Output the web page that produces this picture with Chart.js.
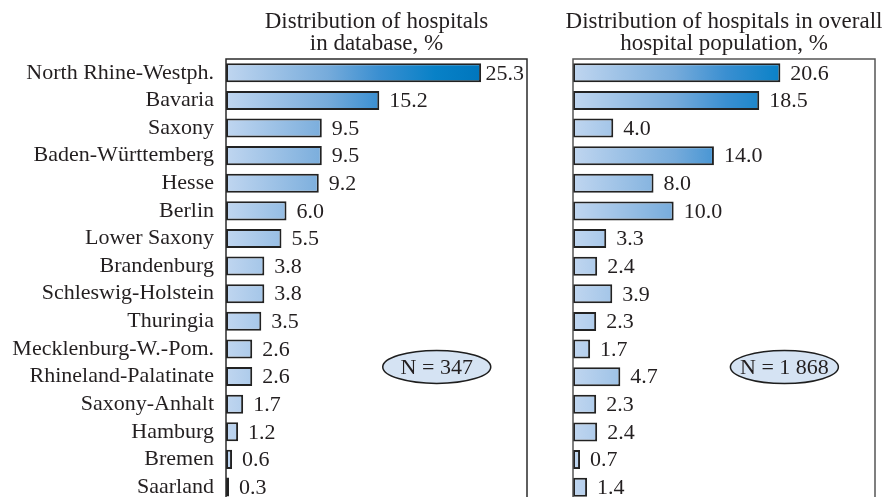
<!DOCTYPE html>
<html>
<head>
<meta charset="utf-8">
<title>Distribution of hospitals</title>
<script src="https://cdn.jsdelivr.net/npm/chart.js@4.4.0/dist/chart.umd.min.js"></script>
<style>
    html, body { margin: 0; padding: 0; background: #fff; overflow: hidden; width: 887px; height: 497px; }
    .panel { position: absolute; top: 0; }
    #leftPanel { left: 0; }
    #rightPanel { left: 545px; }
</style>
</head>
<body>
<div class="panel" id="leftPanel"><canvas id="leftChart" width="545" height="526"></canvas></div>
<div class="panel" id="rightPanel"><canvas id="rightChart" width="342" height="526"></canvas></div>
<script>
// ============================================================================
// Data
// ============================================================================

const STATES = [
    'North Rhine-Westph.', 'Bavaria', 'Saxony', 'Baden-Württemberg', 'Hesse',
    'Berlin', 'Lower Saxony', 'Brandenburg', 'Schleswig-Holstein', 'Thuringia',
    'Mecklenburg-W.-Pom.', 'Rhineland-Palatinate', 'Saxony-Anhalt', 'Hamburg',
    'Bremen', 'Saarland'
];
const DATABASE_SHARE = [25.3, 15.2, 9.5, 9.5, 9.2, 6.0, 5.5, 3.8, 3.8, 3.5, 2.6, 2.6, 1.7, 1.2, 0.6, 0.3];
const POPULATION_SHARE = [20.6, 18.5, 4.0, 14.0, 8.0, 10.0, 3.3, 2.4, 3.9, 2.3, 1.7, 4.7, 2.3, 2.4, 0.7, 1.4];
const TITLE_LEFT = ['Distribution of hospitals', 'in database, %'];
const TITLE_RIGHT = ['Distribution of hospitals in overall', 'hospital population, %'];
const SAMPLE_LEFT = 'N = 347';
const SAMPLE_RIGHT = 'N = 1 868';

// ============================================================================
// Styling
// ============================================================================

const FONT = "'Liberation Serif', 'Times New Roman', serif";
const TEXT_COLOR = '#231f20';

// gradient runs across a fixed pixel width, so short bars stay pale
const makeBarFill = (context) => {
    const chart = context.chart;
    if (!chart.chartArea) return '#7aaedc';
    const x0 = chart.scales.x.getPixelForValue(0);
    const g = chart.ctx.createLinearGradient(x0, 0, x0 + 255, 0);
    g.addColorStop(0, '#c0d6f0');
    g.addColorStop(0.4, '#76abdb');
    g.addColorStop(0.6, '#3a8fd1');
    g.addColorStop(0.82, '#0881c7');
    g.addColorStop(1, '#0076bd');
    return g;
};

// panel heading, two centred lines over the plot frame
const headingPlugin = {
    id: 'heading',
    afterDraw(chart, args, opts) {
        const { ctx, chartArea } = chart;
        const cx = (chartArea.left + chartArea.right) / 2;
        ctx.save();
        ctx.font = '23px ' + FONT;
        ctx.fillStyle = TEXT_COLOR;
        ctx.textAlign = 'center';
        ctx.textBaseline = 'alphabetic';
        opts.lines.forEach((line, i) => ctx.fillText(line, cx, 28 + i * 22));
        ctx.restore();
    }
};

// open frame: left, top and right edges
const framePlugin = {
    id: 'frame',
    afterDraw(chart, args, opts) {
        const { ctx, chartArea: a } = chart;
        ctx.save();
        ctx.strokeStyle = opts.color;
        ctx.lineWidth = 1.5;
        ctx.beginPath();
        ctx.moveTo(a.left, a.bottom + 5);
        ctx.lineTo(a.left, a.top);
        ctx.lineTo(a.right, a.top);
        ctx.lineTo(a.right, a.bottom + 5);
        ctx.stroke();
        ctx.restore();
    }
};

// value written just past each bar end, kept inside the frame
const valueLabelPlugin = {
    id: 'valueLabels',
    afterDatasetsDraw(chart) {
        const { ctx, chartArea } = chart;
        const meta = chart.getDatasetMeta(0);
        const values = chart.data.datasets[0].data;
        ctx.save();
        ctx.font = '22px ' + FONT;
        ctx.fillStyle = TEXT_COLOR;
        ctx.textAlign = 'left';
        ctx.textBaseline = 'middle';
        meta.data.forEach((bar, i) => {
            const text = values[i].toFixed(1);
            const w = ctx.measureText(text).width;
            const x = Math.min(bar.x + 10, chartArea.right - 3 - w);
            ctx.fillText(text, x, bar.y + 1);
        });
        ctx.restore();
    }
};

// sample size in an ellipse, anchored in data coordinates
const sampleNotePlugin = {
    id: 'sampleNote',
    afterDraw(chart, args, opts) {
        const { ctx } = chart;
        const cx = chart.scales.x.getPixelForValue(opts.x);
        const cy = chart.scales.y.getPixelForValue(opts.y);
        ctx.save();
        ctx.beginPath();
        ctx.ellipse(cx, cy, 54, 16.5, 0, 0, Math.PI * 2);
        ctx.fillStyle = '#d5e3f3';
        ctx.fill();
        ctx.lineWidth = 1.5;
        ctx.strokeStyle = '#1e1e1e';
        ctx.stroke();
        ctx.font = '22px ' + FONT;
        ctx.fillStyle = TEXT_COLOR;
        ctx.textAlign = 'center';
        ctx.textBaseline = 'middle';
        ctx.fillText(opts.text, cx, cy + 1);
        ctx.restore();
    }
};

// ============================================================================
// Chart construction
// ============================================================================

const buildChart = (canvasId, values, opts) => {
    const ctx = document.getElementById(canvasId).getContext('2d');
    return new Chart(ctx, {
        type: 'bar',
        data: {
            labels: STATES,
            datasets: [{
                data: values,
                backgroundColor: makeBarFill,
                borderColor: '#222222',
                borderWidth: 2,
                borderSkipped: false,
                barPercentage: 0.69,
                categoryPercentage: 1
            }]
        },
        options: {
            indexAxis: 'y',
            responsive: false,
            animation: false,
            layout: { padding: opts.padding },
            scales: {
                x: { display: false, min: 0, max: opts.xMax },
                y: {
                    display: opts.showLabels,
                    afterFit: (scale) => { scale.width = opts.labelWidth; },
                    grid: { display: false, drawTicks: false },
                    border: { display: false },
                    ticks: {
                        autoSkip: false,
                        padding: 12,
                        color: TEXT_COLOR,
                        font: { family: FONT, size: 22 }
                    }
                }
            },
            plugins: {
                legend: { display: false },
                tooltip: { enabled: false },
                heading: { lines: opts.title },
                frame: { color: opts.frameColor },
                sampleNote: { text: opts.note, x: opts.noteX, y: 10.65 }
            }
        },
        plugins: [headingPlugin, framePlugin, valueLabelPlugin, sampleNotePlugin]
    });
};

// the label axis reserves ~25px below the last row, so both panels use it
buildChart('leftChart', DATABASE_SHARE, {
    padding: { top: 59, right: 18, bottom: 25, left: 0 },
    xMax: 29.85,
    showLabels: true,
    labelWidth: 226,
    title: TITLE_LEFT,
    frameColor: '#2b2b2b',
    note: SAMPLE_LEFT,
    noteX: 20.9
});

buildChart('rightChart', POPULATION_SHARE, {
    padding: { top: 59, right: 12, bottom: 25, left: 28 },
    xMax: 30,
    showLabels: false,
    labelWidth: 0,
    title: TITLE_RIGHT,
    frameColor: '#555555',
    note: SAMPLE_RIGHT,
    noteX: 21.0
});
</script>
</body>
</html>
